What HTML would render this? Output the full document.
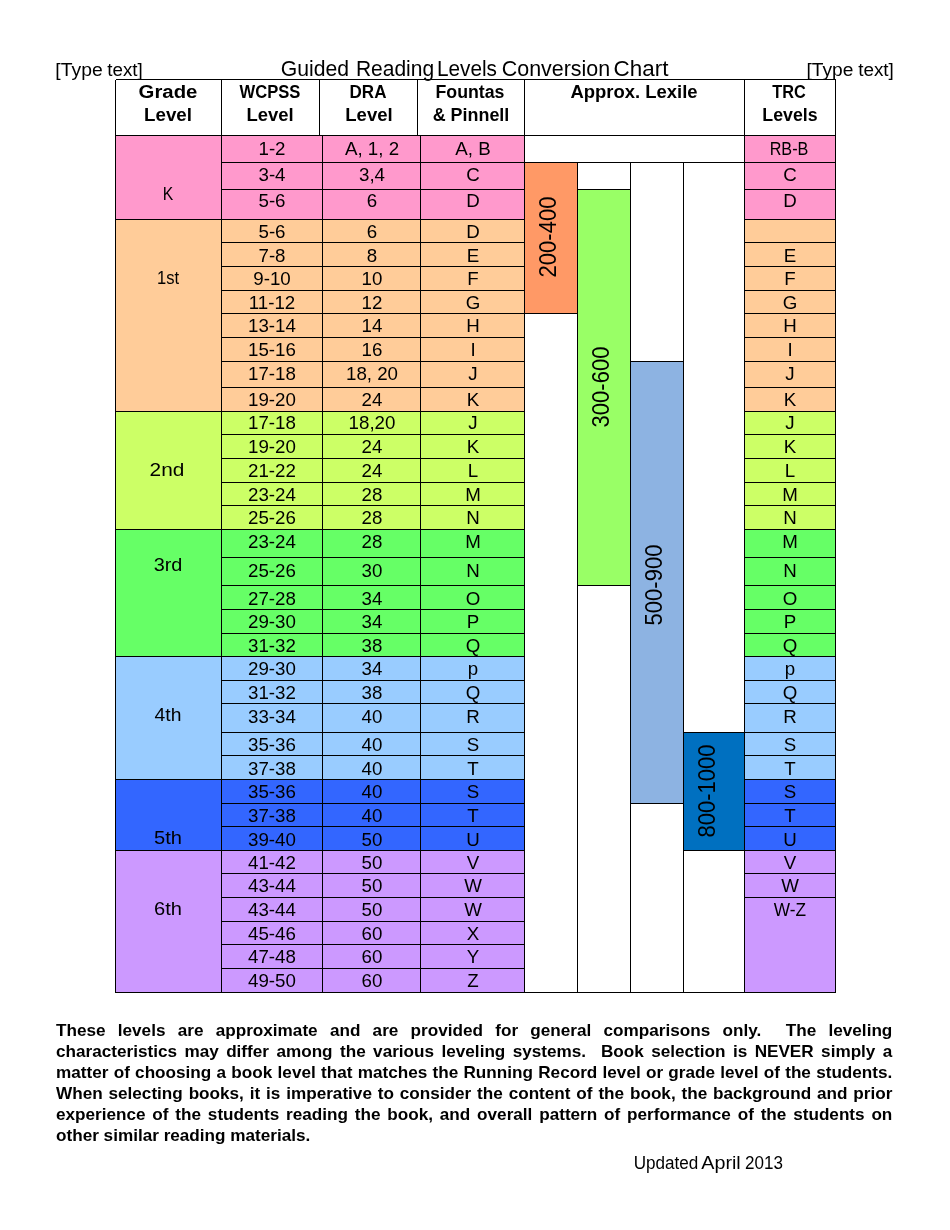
<!DOCTYPE html>
<html><head><meta charset="utf-8"><title>Guided Reading Levels Conversion Chart</title>
<style>
html,body{margin:0;padding:0;background:#fff;}
body{width:950px;height:1230px;position:relative;overflow:hidden;font-family:"Liberation Sans",sans-serif;color:#000;}
svg{position:absolute;left:0;top:0;}
.c{position:absolute;width:200px;height:40px;line-height:40px;text-align:center;font-size:19px;white-space:nowrap;}
.c::before,.p::before,.t::before{content:"";display:inline-block;height:30px;vertical-align:baseline;}
.b{font-weight:bold;font-size:18.7px;}
.v{position:absolute;width:200px;height:40px;line-height:40px;text-align:center;font-size:23px;white-space:nowrap;transform-origin:100px 30px;transform:rotate(-90deg) scaleX(0.957);}
.v::before{content:"";display:inline-block;height:30px;}
.p{position:absolute;left:56.3px;width:785.3px;transform-origin:0 50%;transform:scaleX(1.065);height:40px;line-height:40px;font-weight:bold;font-size:16.1px;white-space:nowrap;}
.j{text-align:justify;text-align-last:justify;white-space:normal;}
.t{position:absolute;height:40px;line-height:40px;white-space:nowrap;}
</style></head><body>
<svg width="950" height="1230" viewBox="0 0 950 1230">
<rect x="115.5" y="135.5" width="409.0" height="84.0" fill="#FF99CC"/>
<rect x="744.5" y="135.5" width="91.0" height="84.0" fill="#FF99CC"/>
<rect x="115.5" y="219.5" width="409.0" height="192.0" fill="#FFCC99"/>
<rect x="744.5" y="219.5" width="91.0" height="192.0" fill="#FFCC99"/>
<rect x="115.5" y="411.5" width="409.0" height="118.0" fill="#CCFF66"/>
<rect x="744.5" y="411.5" width="91.0" height="118.0" fill="#CCFF66"/>
<rect x="115.5" y="529.5" width="409.0" height="127.0" fill="#66FF66"/>
<rect x="744.5" y="529.5" width="91.0" height="127.0" fill="#66FF66"/>
<rect x="115.5" y="656.5" width="409.0" height="123.0" fill="#99CCFF"/>
<rect x="744.5" y="656.5" width="91.0" height="123.0" fill="#99CCFF"/>
<rect x="115.5" y="779.5" width="409.0" height="71.0" fill="#3366FF"/>
<rect x="744.5" y="779.5" width="91.0" height="71.0" fill="#3366FF"/>
<rect x="115.5" y="850.5" width="409.0" height="142.0" fill="#CC99FF"/>
<rect x="744.5" y="850.5" width="91.0" height="142.0" fill="#CC99FF"/>
<rect x="524.5" y="162.5" width="53.0" height="151.0" fill="#FF9966"/>
<rect x="577.5" y="189.5" width="53.0" height="396.0" fill="#99FF66"/>
<rect x="630.5" y="361.5" width="53.0" height="442.0" fill="#8DB3E2"/>
<rect x="683.5" y="732.5" width="61.0" height="118.0" fill="#0070C0"/>
<path d="M115.5 79.5H835.5M115.5 135.5H835.5M115.5 992.5H835.5M115.5 79.5V992.5M835.5 79.5V992.5M221.5 79.5V992.5M524.5 79.5V992.5M744.5 79.5V992.5M319.5 79.5V135.5M417.5 79.5V135.5M322.5 135.5V992.5M420.5 135.5V992.5M577.5 162.5V992.5M630.5 162.5V992.5M683.5 162.5V992.5M115.5 219.5H221.5M115.5 411.5H221.5M115.5 529.5H221.5M115.5 656.5H221.5M115.5 779.5H221.5M115.5 850.5H221.5M115.5 992.5H221.5M221.5 162.5H524.5M744.5 162.5H835.5M221.5 189.5H524.5M744.5 189.5H835.5M221.5 219.5H524.5M744.5 219.5H835.5M221.5 242.5H524.5M744.5 242.5H835.5M221.5 266.5H524.5M744.5 266.5H835.5M221.5 290.5H524.5M744.5 290.5H835.5M221.5 313.5H524.5M744.5 313.5H835.5M221.5 337.5H524.5M744.5 337.5H835.5M221.5 361.5H524.5M744.5 361.5H835.5M221.5 387.5H524.5M744.5 387.5H835.5M221.5 411.5H524.5M744.5 411.5H835.5M221.5 434.5H524.5M744.5 434.5H835.5M221.5 458.5H524.5M744.5 458.5H835.5M221.5 482.5H524.5M744.5 482.5H835.5M221.5 505.5H524.5M744.5 505.5H835.5M221.5 529.5H524.5M744.5 529.5H835.5M221.5 557.5H524.5M744.5 557.5H835.5M221.5 585.5H524.5M744.5 585.5H835.5M221.5 609.5H524.5M744.5 609.5H835.5M221.5 633.5H524.5M744.5 633.5H835.5M221.5 656.5H524.5M744.5 656.5H835.5M221.5 680.5H524.5M744.5 680.5H835.5M221.5 703.5H524.5M744.5 703.5H835.5M221.5 732.5H524.5M744.5 732.5H835.5M221.5 755.5H524.5M744.5 755.5H835.5M221.5 779.5H524.5M744.5 779.5H835.5M221.5 803.5H524.5M744.5 803.5H835.5M221.5 826.5H524.5M744.5 826.5H835.5M221.5 850.5H524.5M744.5 850.5H835.5M221.5 873.5H524.5M744.5 873.5H835.5M221.5 897.5H524.5M744.5 897.5H835.5M221.5 921.5H524.5M221.5 944.5H524.5M221.5 968.5H524.5M524.5 162.5H744.5M524.5 313.5H577.5M577.5 189.5H630.5M577.5 585.5H630.5M630.5 361.5H683.5M630.5 803.5H683.5M683.5 732.5H744.5M683.5 850.5H744.5" stroke="#000" stroke-width="1" fill="none" shape-rendering="crispEdges"/>
</svg>
<div class="c w" style="left:-21.00px;top:45.7px;transform:scaleX(1.1000);font-size:17.6px;">[Type</div>
<div class="c w" style="left:25.28px;top:45.7px;transform:scaleX(1.0677);font-size:17.6px;">text]</div>
<div class="c w" style="left:215.30px;top:45.9px;transform:scaleX(0.9765);font-size:21.7px;">Guided</div>
<div class="c w" style="left:295.35px;top:45.9px;transform:scaleX(0.9679);font-size:21.7px;">Reading</div>
<div class="c w" style="left:366.94px;top:45.9px;transform:scaleX(0.9567);font-size:21.7px;">Levels</div>
<div class="c w" style="left:456.44px;top:45.9px;transform:scaleX(0.9879);font-size:21.7px;">Conversion</div>
<div class="c w" style="left:541.13px;top:45.9px;transform:scaleX(1.0333);font-size:21.7px;">Chart</div>
<div class="c w" style="left:729.90px;top:45.7px;transform:scaleX(1.0902);font-size:17.6px;">[Type</div>
<div class="c w" style="left:775.99px;top:45.7px;transform:scaleX(1.0742);font-size:17.6px;">text]</div>
<div class="c w" style="left:565.85px;top:1138.8px;transform:scaleX(0.9766);font-size:17.5px;">Updated</div>
<div class="c w" style="left:620.96px;top:1138.8px;transform:scaleX(1.1273);font-size:17.5px;">April</div>
<div class="c w" style="left:663.90px;top:1138.8px;transform:scaleX(0.9737);font-size:17.5px;">2013</div>
<div class="c" style="left:67.84px;top:169.7px;transform:scaleX(0.8273);">K</div>
<div class="c" style="left:68.38px;top:253.8px;transform:scaleX(0.8708);">1st</div>
<div class="c" style="left:67.45px;top:445.8px;transform:scaleX(1.0967);">2nd</div>
<div class="c" style="left:67.80px;top:540.7px;transform:scaleX(1.0462);">3rd</div>
<div class="c" style="left:68.21px;top:690.7px;transform:scaleX(1.0160);">4th</div>
<div class="c" style="left:67.70px;top:813.9px;transform:scaleX(1.0583);">5th</div>
<div class="c" style="left:67.70px;top:884.8px;transform:scaleX(1.0583);">6th</div>
<div class="c" style="left:172.00px;top:125.0px;transform:scaleX(0.9850);">1-2</div>
<div class="c" style="left:271.50px;top:125.0px;transform:scaleX(0.9850);">A, 1, 2</div>
<div class="c" style="left:372.50px;top:125.0px;transform:scaleX(0.9850);">A, B</div>
<div class="c" style="left:688.57px;top:125.0px;transform:scaleX(0.8512);">RB-B</div>
<div class="c" style="left:172.00px;top:150.6px;transform:scaleX(0.9850);">3-4</div>
<div class="c" style="left:271.50px;top:150.6px;transform:scaleX(0.9850);">3,4</div>
<div class="c" style="left:372.50px;top:150.6px;transform:scaleX(0.9850);">C</div>
<div class="c" style="left:690.00px;top:150.6px;transform:scaleX(0.9850);">C</div>
<div class="c" style="left:172.00px;top:177.4px;transform:scaleX(0.9850);">5-6</div>
<div class="c" style="left:271.50px;top:177.4px;transform:scaleX(0.9850);">6</div>
<div class="c" style="left:372.50px;top:177.4px;transform:scaleX(0.9850);">D</div>
<div class="c" style="left:690.00px;top:177.4px;transform:scaleX(0.9850);">D</div>
<div class="c" style="left:172.00px;top:208.0px;transform:scaleX(0.9850);">5-6</div>
<div class="c" style="left:271.50px;top:208.0px;transform:scaleX(0.9850);">6</div>
<div class="c" style="left:372.50px;top:208.0px;transform:scaleX(0.9850);">D</div>
<div class="c" style="left:172.00px;top:232.0px;transform:scaleX(0.9850);">7-8</div>
<div class="c" style="left:271.50px;top:232.0px;transform:scaleX(0.9850);">8</div>
<div class="c" style="left:372.50px;top:232.0px;transform:scaleX(0.9850);">E</div>
<div class="c" style="left:690.00px;top:232.0px;transform:scaleX(0.9850);">E</div>
<div class="c" style="left:172.00px;top:255.2px;transform:scaleX(0.9850);">9-10</div>
<div class="c" style="left:271.50px;top:255.2px;transform:scaleX(0.9850);">10</div>
<div class="c" style="left:372.50px;top:255.2px;transform:scaleX(0.9850);">F</div>
<div class="c" style="left:690.00px;top:255.2px;transform:scaleX(0.9850);">F</div>
<div class="c" style="left:172.00px;top:278.6px;transform:scaleX(0.9850);">11-12</div>
<div class="c" style="left:271.50px;top:278.6px;transform:scaleX(0.9850);">12</div>
<div class="c" style="left:372.50px;top:278.6px;transform:scaleX(0.9850);">G</div>
<div class="c" style="left:690.00px;top:278.6px;transform:scaleX(0.9850);">G</div>
<div class="c" style="left:172.00px;top:301.8px;transform:scaleX(0.9850);">13-14</div>
<div class="c" style="left:271.50px;top:301.8px;transform:scaleX(0.9850);">14</div>
<div class="c" style="left:372.50px;top:301.8px;transform:scaleX(0.9850);">H</div>
<div class="c" style="left:690.00px;top:301.8px;transform:scaleX(0.9850);">H</div>
<div class="c" style="left:172.00px;top:325.6px;transform:scaleX(0.9850);">15-16</div>
<div class="c" style="left:271.50px;top:325.6px;transform:scaleX(0.9850);">16</div>
<div class="c" style="left:372.50px;top:325.6px;transform:scaleX(0.9850);">I</div>
<div class="c" style="left:690.00px;top:325.6px;transform:scaleX(0.9850);">I</div>
<div class="c" style="left:172.00px;top:349.6px;transform:scaleX(0.9850);">17-18</div>
<div class="c" style="left:271.50px;top:349.6px;transform:scaleX(0.9850);">18, 20</div>
<div class="c" style="left:372.50px;top:349.6px;transform:scaleX(0.9850);">J</div>
<div class="c" style="left:690.00px;top:349.6px;transform:scaleX(0.9850);">J</div>
<div class="c" style="left:172.00px;top:375.6px;transform:scaleX(0.9850);">19-20</div>
<div class="c" style="left:271.50px;top:375.6px;transform:scaleX(0.9850);">24</div>
<div class="c" style="left:372.50px;top:375.6px;transform:scaleX(0.9850);">K</div>
<div class="c" style="left:690.00px;top:375.6px;transform:scaleX(0.9850);">K</div>
<div class="c" style="left:172.00px;top:399.4px;transform:scaleX(0.9850);">17-18</div>
<div class="c" style="left:271.50px;top:399.4px;transform:scaleX(0.9850);">18,20</div>
<div class="c" style="left:372.50px;top:399.4px;transform:scaleX(0.9850);">J</div>
<div class="c" style="left:690.00px;top:399.4px;transform:scaleX(0.9850);">J</div>
<div class="c" style="left:172.00px;top:423.4px;transform:scaleX(0.9850);">19-20</div>
<div class="c" style="left:271.50px;top:423.4px;transform:scaleX(0.9850);">24</div>
<div class="c" style="left:372.50px;top:423.4px;transform:scaleX(0.9850);">K</div>
<div class="c" style="left:690.00px;top:423.4px;transform:scaleX(0.9850);">K</div>
<div class="c" style="left:172.00px;top:447.0px;transform:scaleX(0.9850);">21-22</div>
<div class="c" style="left:271.50px;top:447.0px;transform:scaleX(0.9850);">24</div>
<div class="c" style="left:372.50px;top:447.0px;transform:scaleX(0.9850);">L</div>
<div class="c" style="left:690.00px;top:447.0px;transform:scaleX(0.9850);">L</div>
<div class="c" style="left:172.00px;top:470.6px;transform:scaleX(0.9850);">23-24</div>
<div class="c" style="left:271.50px;top:470.6px;transform:scaleX(0.9850);">28</div>
<div class="c" style="left:372.50px;top:470.6px;transform:scaleX(0.9850);">M</div>
<div class="c" style="left:690.00px;top:470.6px;transform:scaleX(0.9850);">M</div>
<div class="c" style="left:172.00px;top:494.0px;transform:scaleX(0.9850);">25-26</div>
<div class="c" style="left:271.50px;top:494.0px;transform:scaleX(0.9850);">28</div>
<div class="c" style="left:372.50px;top:494.0px;transform:scaleX(0.9850);">N</div>
<div class="c" style="left:690.00px;top:494.0px;transform:scaleX(0.9850);">N</div>
<div class="c" style="left:172.00px;top:518.0px;transform:scaleX(0.9850);">23-24</div>
<div class="c" style="left:271.50px;top:518.0px;transform:scaleX(0.9850);">28</div>
<div class="c" style="left:372.50px;top:518.0px;transform:scaleX(0.9850);">M</div>
<div class="c" style="left:690.00px;top:518.0px;transform:scaleX(0.9850);">M</div>
<div class="c" style="left:172.00px;top:547.0px;transform:scaleX(0.9850);">25-26</div>
<div class="c" style="left:271.50px;top:547.0px;transform:scaleX(0.9850);">30</div>
<div class="c" style="left:372.50px;top:547.0px;transform:scaleX(0.9850);">N</div>
<div class="c" style="left:690.00px;top:547.0px;transform:scaleX(0.9850);">N</div>
<div class="c" style="left:172.00px;top:574.6px;transform:scaleX(0.9850);">27-28</div>
<div class="c" style="left:271.50px;top:574.6px;transform:scaleX(0.9850);">34</div>
<div class="c" style="left:372.50px;top:574.6px;transform:scaleX(0.9850);">O</div>
<div class="c" style="left:690.00px;top:574.6px;transform:scaleX(0.9850);">O</div>
<div class="c" style="left:172.00px;top:598.0px;transform:scaleX(0.9850);">29-30</div>
<div class="c" style="left:271.50px;top:598.0px;transform:scaleX(0.9850);">34</div>
<div class="c" style="left:372.50px;top:598.0px;transform:scaleX(0.9850);">P</div>
<div class="c" style="left:690.00px;top:598.0px;transform:scaleX(0.9850);">P</div>
<div class="c" style="left:172.00px;top:621.6px;transform:scaleX(0.9850);">31-32</div>
<div class="c" style="left:271.50px;top:621.6px;transform:scaleX(0.9850);">38</div>
<div class="c" style="left:372.50px;top:621.6px;transform:scaleX(0.9850);">Q</div>
<div class="c" style="left:690.00px;top:621.6px;transform:scaleX(0.9850);">Q</div>
<div class="c" style="left:172.00px;top:645.4px;transform:scaleX(0.9850);">29-30</div>
<div class="c" style="left:271.50px;top:645.4px;transform:scaleX(0.9850);">34</div>
<div class="c" style="left:372.50px;top:645.4px;transform:scaleX(0.9850);">p</div>
<div class="c" style="left:690.00px;top:645.4px;transform:scaleX(0.9850);">p</div>
<div class="c" style="left:172.00px;top:668.8px;transform:scaleX(0.9850);">31-32</div>
<div class="c" style="left:271.50px;top:668.8px;transform:scaleX(0.9850);">38</div>
<div class="c" style="left:372.50px;top:668.8px;transform:scaleX(0.9850);">Q</div>
<div class="c" style="left:690.00px;top:668.8px;transform:scaleX(0.9850);">Q</div>
<div class="c" style="left:172.00px;top:692.6px;transform:scaleX(0.9850);">33-34</div>
<div class="c" style="left:271.50px;top:692.6px;transform:scaleX(0.9850);">40</div>
<div class="c" style="left:372.50px;top:692.6px;transform:scaleX(0.9850);">R</div>
<div class="c" style="left:690.00px;top:692.6px;transform:scaleX(0.9850);">R</div>
<div class="c" style="left:172.00px;top:720.8px;transform:scaleX(0.9850);">35-36</div>
<div class="c" style="left:271.50px;top:720.8px;transform:scaleX(0.9850);">40</div>
<div class="c" style="left:372.50px;top:720.8px;transform:scaleX(0.9850);">S</div>
<div class="c" style="left:690.00px;top:720.8px;transform:scaleX(0.9850);">S</div>
<div class="c" style="left:172.00px;top:744.6px;transform:scaleX(0.9850);">37-38</div>
<div class="c" style="left:271.50px;top:744.6px;transform:scaleX(0.9850);">40</div>
<div class="c" style="left:372.50px;top:744.6px;transform:scaleX(0.9850);">T</div>
<div class="c" style="left:690.00px;top:744.6px;transform:scaleX(0.9850);">T</div>
<div class="c" style="left:172.00px;top:767.9px;transform:scaleX(0.9850);">35-36</div>
<div class="c" style="left:271.50px;top:767.9px;transform:scaleX(0.9850);">40</div>
<div class="c" style="left:372.50px;top:767.9px;transform:scaleX(0.9850);">S</div>
<div class="c" style="left:690.00px;top:767.9px;transform:scaleX(0.9850);">S</div>
<div class="c" style="left:172.00px;top:791.6px;transform:scaleX(0.9850);">37-38</div>
<div class="c" style="left:271.50px;top:791.6px;transform:scaleX(0.9850);">40</div>
<div class="c" style="left:372.50px;top:791.6px;transform:scaleX(0.9850);">T</div>
<div class="c" style="left:690.00px;top:791.6px;transform:scaleX(0.9850);">T</div>
<div class="c" style="left:172.00px;top:815.6px;transform:scaleX(0.9850);">39-40</div>
<div class="c" style="left:271.50px;top:815.6px;transform:scaleX(0.9850);">50</div>
<div class="c" style="left:372.50px;top:815.6px;transform:scaleX(0.9850);">U</div>
<div class="c" style="left:690.00px;top:815.6px;transform:scaleX(0.9850);">U</div>
<div class="c" style="left:172.00px;top:838.6px;transform:scaleX(0.9850);">41-42</div>
<div class="c" style="left:271.50px;top:838.6px;transform:scaleX(0.9850);">50</div>
<div class="c" style="left:372.50px;top:838.6px;transform:scaleX(0.9850);">V</div>
<div class="c" style="left:690.00px;top:838.6px;transform:scaleX(0.9850);">V</div>
<div class="c" style="left:172.00px;top:862.4px;transform:scaleX(0.9850);">43-44</div>
<div class="c" style="left:271.50px;top:862.4px;transform:scaleX(0.9850);">50</div>
<div class="c" style="left:372.50px;top:862.4px;transform:scaleX(0.9850);">W</div>
<div class="c" style="left:690.00px;top:862.4px;transform:scaleX(0.9850);">W</div>
<div class="c" style="left:172.00px;top:885.6px;transform:scaleX(0.9850);">43-44</div>
<div class="c" style="left:271.50px;top:885.6px;transform:scaleX(0.9850);">50</div>
<div class="c" style="left:372.50px;top:885.6px;transform:scaleX(0.9850);">W</div>
<div class="c" style="left:690.15px;top:885.6px;transform:scaleX(0.9086);">W-Z</div>
<div class="c" style="left:172.00px;top:910.0px;transform:scaleX(0.9850);">45-46</div>
<div class="c" style="left:271.50px;top:910.0px;transform:scaleX(0.9850);">60</div>
<div class="c" style="left:372.50px;top:910.0px;transform:scaleX(0.9850);">X</div>
<div class="c" style="left:172.00px;top:933.4px;transform:scaleX(0.9850);">47-48</div>
<div class="c" style="left:271.50px;top:933.4px;transform:scaleX(0.9850);">60</div>
<div class="c" style="left:372.50px;top:933.4px;transform:scaleX(0.9850);">Y</div>
<div class="c" style="left:172.00px;top:957.0px;transform:scaleX(0.9850);">49-50</div>
<div class="c" style="left:271.50px;top:957.0px;transform:scaleX(0.9850);">60</div>
<div class="c" style="left:372.50px;top:957.0px;transform:scaleX(0.9850);">Z</div>
<div class="c b" style="left:67.90px;top:67.9px;transform:scaleX(1.0885);">Grade</div>
<div class="c b" style="left:68.45px;top:90.6px;transform:scaleX(1.0022);">Level</div>
<div class="c b" style="left:170.39px;top:67.9px;transform:scaleX(0.8881);">WCPSS</div>
<div class="c b" style="left:170.30px;top:90.6px;transform:scaleX(0.9870);">Level</div>
<div class="c b" style="left:267.69px;top:67.9px;transform:scaleX(0.9103);">DRA</div>
<div class="c b" style="left:268.60px;top:90.6px;transform:scaleX(0.9913);">Level</div>
<div class="c b" style="left:370.23px;top:67.9px;transform:scaleX(0.9493);">Fountas</div>
<div class="c b" style="left:371.00px;top:90.6px;transform:scaleX(0.9590);">&amp; Pinnell</div>
<div class="c b" style="left:533.90px;top:67.9px;transform:scaleX(0.9875);">Approx. Lexile</div>
<div class="c b" style="left:689.09px;top:67.9px;transform:scaleX(0.8730);">TRC</div>
<div class="c b" style="left:689.70px;top:90.6px;transform:scaleX(0.9500);">Levels</div>
<div class="v" style="left:455.9px;top:207.0px;">200-400</div>
<div class="v" style="left:508.7px;top:356.7px;">300-600</div>
<div class="v" style="left:562.0px;top:555.1px;">500-900</div>
<div class="v" style="left:614.9px;top:761.0px;">800-1000</div>
<div class="p j" style="top:1005.7px">These levels are approximate and are provided for general comparisons only.&nbsp; The leveling</div>
<div class="p j" style="top:1026.9px">characteristics may differ among the various leveling systems.&nbsp; Book selection is NEVER simply a</div>
<div class="p j" style="top:1047.9px">matter of choosing a book level that matches the Running Record level or grade level of the students.</div>
<div class="p j" style="top:1068.9px">When selecting books, it is imperative to consider the content of the book, the background and prior</div>
<div class="p j" style="top:1089.8px">experience of the students reading the book, and overall pattern of performance of the students on</div>
<div class="p" style="top:1110.6px">other similar reading materials.</div>

</body></html>
